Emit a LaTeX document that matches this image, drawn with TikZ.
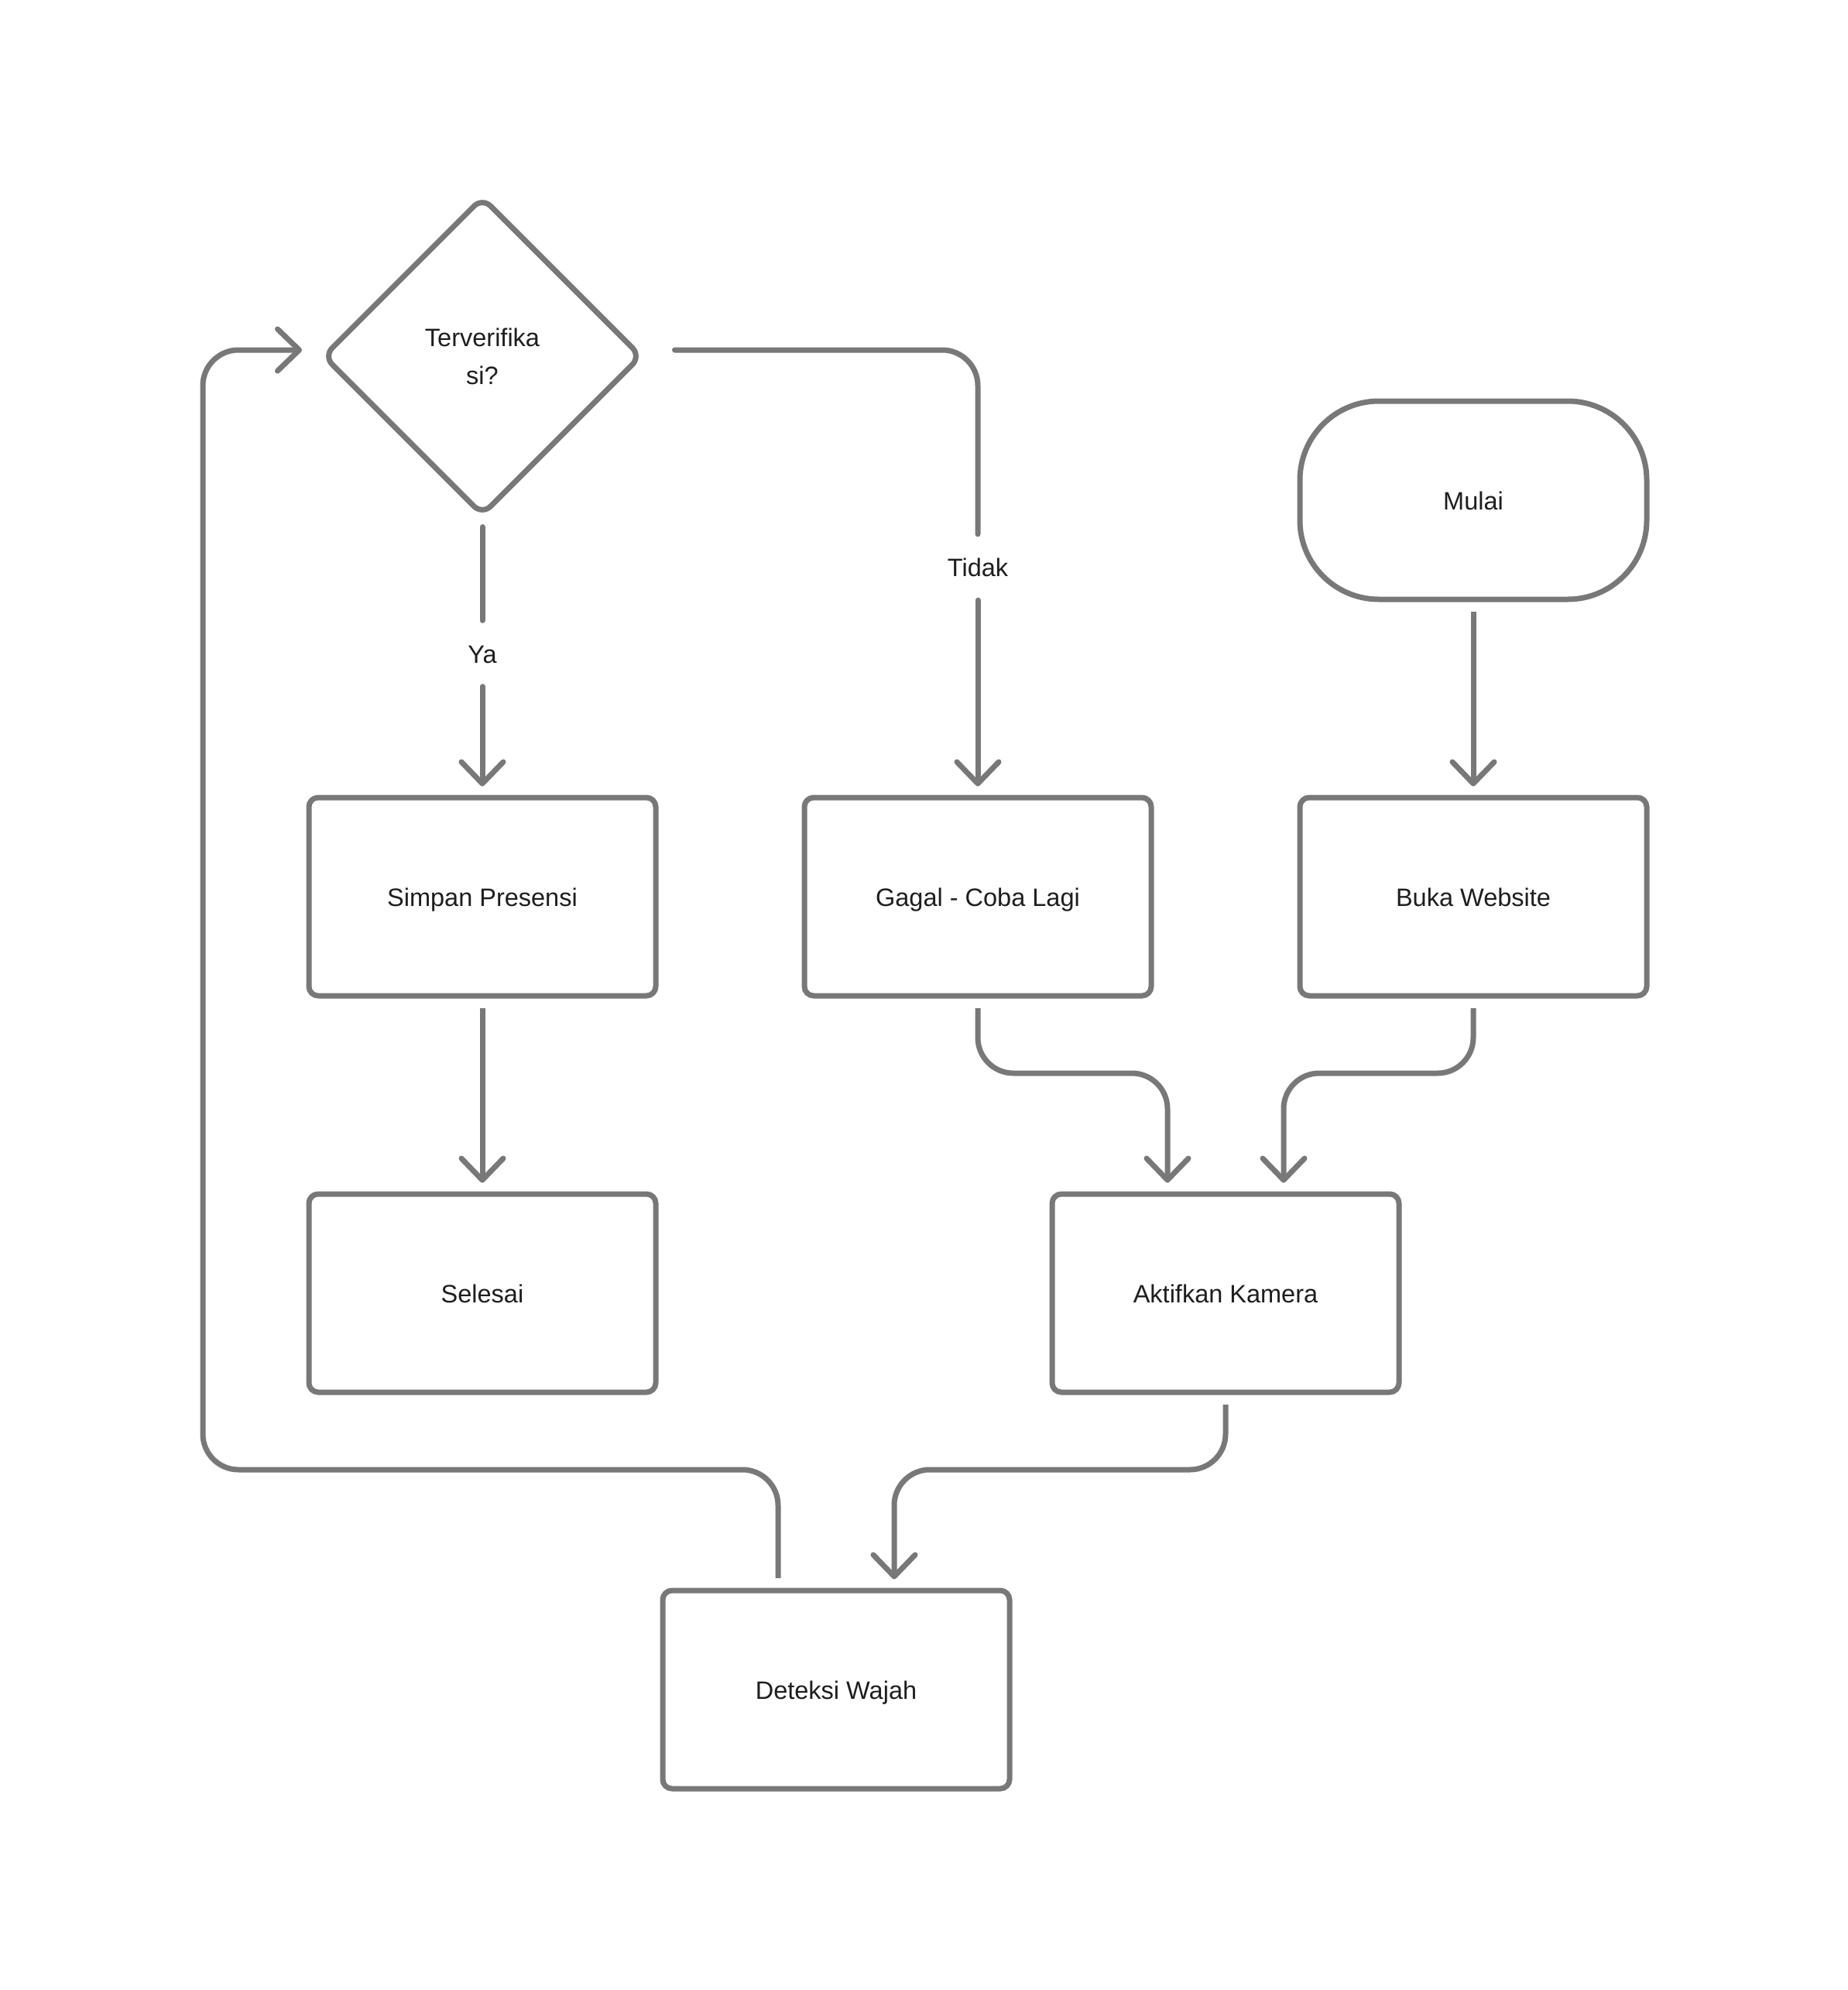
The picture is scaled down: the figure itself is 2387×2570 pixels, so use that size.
\documentclass[tikz,border=0pt]{standalone}
\usepackage{fontspec}
\setmainfont{Liberation Sans}
\usetikzlibrary{arrows.meta,shapes.geometric}
\definecolor{lc}{RGB}{120,120,120}
\definecolor{tc}{RGB}{30,30,30}
\begin{document}
\begin{tikzpicture}[x=1pt,y=1pt,
  every node/.style={text=tc, font=\fontsize{32.5pt}{49pt}\selectfont},
  box/.style={draw=lc, line width=7pt, rectangle, rounded corners=12pt, minimum width=448pt, minimum height=256pt, inner sep=0pt, text height=24pt, text depth=0pt},
  term/.style={box, rounded corners=102pt},
  dec/.style={draw=lc, line width=7pt, diamond, rounded corners=15pt, minimum width=412pt, minimum height=412pt, inner sep=0pt, align=center},
  lbl/.style={inner sep=0pt, minimum height=85pt, text height=24pt, text depth=0pt},
  conn/.style={draw=lc, line width=7pt, rounded corners=46pt},
  arr/.style={conn, -{Straight Barb[length=28pt,width=54pt,round]}, shorten >=11pt},
]
\fill[white] (0,0) rectangle (2387,-2570);
\path[use as bounding box] (0,0) rectangle (2387,-2570);

\node[dec] (d) at (623,-460) {Terverifika\\si?};
\node[term] (mulai) at (1903,-646) {Mulai};
\node[box] (simpan) at (623,-1158) {Simpan Presensi};
\node[box] (gagal) at (1263,-1158) {Gagal - Coba Lagi};
\node[box] (buka) at (1903,-1158) {Buka Website};
\node[box] (selesai) at (623,-1670) {Selesai};
\node[box] (akt) at (1583,-1670) {Aktifkan Kamera};
\node[box] (det) at (1080,-2182) {Deteksi Wajah};
\node[lbl] (ya) at (623,-844) {Ya};
\node[lbl] (tidak) at (1263,-732.5) {Tidak};

\draw[conn, line cap=round, shorten <=11pt] (d.south) -- (ya.north);
\draw[arr, line cap=round] (ya.south) -- (simpan.north);
\draw[conn, line cap=round] ([xshift=39pt,yshift=8pt]d.east) -| (tidak.north);
\draw[arr, line cap=round] (tidak.south) -- (gagal.north);
\draw[arr, shorten <=12.5pt] (mulai.south) -- (buka.north);
\draw[arr, shorten <=12.5pt] (simpan.south) -- (selesai.north);
\draw[arr, shorten <=12.5pt] (gagal.south) -- ++(0,-96.5) -| ([xshift=-75pt]akt.north);
\draw[arr, shorten <=12.5pt] (buka.south) -- ++(0,-96.5) -| ([xshift=75pt]akt.north);
\draw[arr, shorten <=12.5pt] (akt.south) -- ++(0,-96.5) -| ([xshift=75pt]det.north);
\draw[arr, shorten <=12.5pt, shorten >=23.5pt] ([xshift=-75pt]det.north) -- ++(0,152.5) -| ([xshift=-151.5pt,yshift=8pt]d.west) -- ([yshift=8pt]d.west);
\end{tikzpicture}
\end{document}
